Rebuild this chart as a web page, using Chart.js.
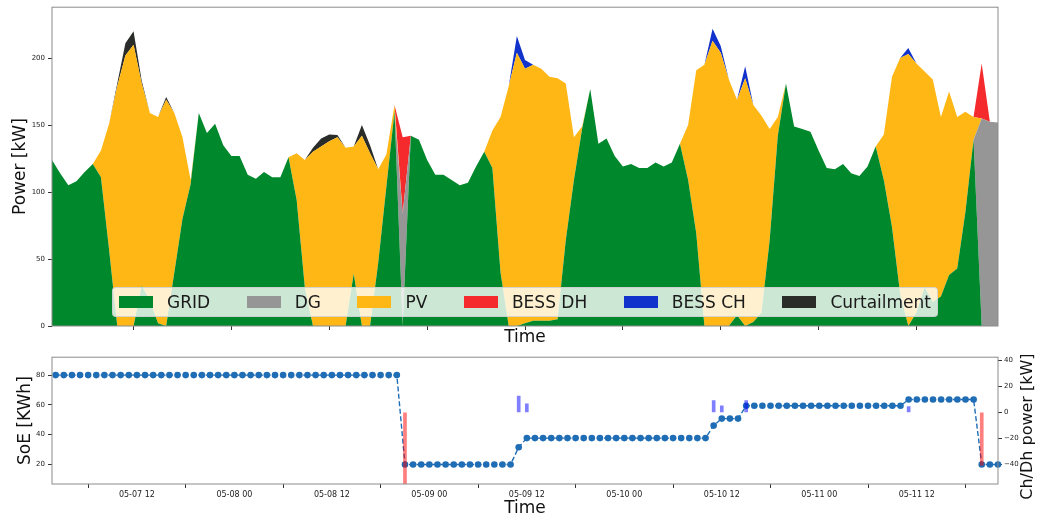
<!DOCTYPE html>
<html>
<head>
<meta charset="utf-8">
<title>Microgrid dispatch</title>
<script src="https://cdn.jsdelivr.net/npm/chart.js@4.4.1/dist/chart.umd.min.js"></script>
<style>
	body {
		margin: 0;
		background: #fff;
	}
	#figure {
		position: relative;
		width: 1038px;
		height: 519px;
		font-family: "DejaVu Sans", sans-serif;
	}
	#powerChart {
		position: absolute;
		left: 0;
		top: 0;
	}
	#soeChart {
		position: absolute;
		left: 0;
		top: 350px;
	}
	#legend-container {
		position: absolute;
		left: 112px;
		top: 287px;
		width: 826px;
		height: 30px;
		box-sizing: border-box;
		background: rgba(255, 255, 255, 0.8);
		border: 1px solid rgba(204, 204, 204, 0.8);
		border-radius: 4px;
	}
</style>
</head>
<body>
<div id="figure">
	<canvas id="powerChart" width="1038" height="350"></canvas>
	<canvas id="soeChart" width="1038" height="169"></canvas>
	<div id="legend-container"></div>
</div>
<script>
// hourly samples, first one on 05-07 at 02:00
const startDay = 7;
const startHour = 2;

// power sources [kW]
const grid = [
	124, 114, 105, 108, 115, 121, 111, 57, 0, 0,
	0, 30, 19, 2, 0, 40, 80, 106, 159, 144,
	151, 135, 127, 127, 113, 110, 115, 111, 111, 126,
	94, 29, 0, 0, 0, 0, 0, 39, 0, 0,
	47, 104, 160, 0, 142, 139, 124, 113, 113, 109,
	105, 107, 119, 130, 118, 40, 0, 0, 2, 4,
	4, 4, 5, 64, 109, 147, 177, 136, 140, 127,
	119, 121, 118, 118, 122, 119, 122, 136, 109, 69,
	0, 0, 0, 0, 8, 0, 3, 10, 64, 142,
	181, 149, 147, 145, 131, 118, 117, 121, 114, 112,
	119, 134, 109, 74, 24, 0, 10, 29, 18, 22,
	38, 43, 85, 139, 0, 0, 0,
];
const dg = [
	0, 0, 0, 0, 0, 0, 0, 0, 0, 0,
	0, 0, 0, 0, 0, 0, 0, 0, 0, 0,
	0, 0, 0, 0, 0, 0, 0, 0, 0, 0,
	0, 0, 0, 0, 0, 0, 0, 0, 0, 0,
	0, 0, 0, 84, 0, 0, 0, 0, 0, 0,
	0, 0, 0, 0, 0, 0, 0, 0, 0, 0,
	0, 0, 0, 0, 0, 0, 0, 0, 0, 0,
	0, 0, 0, 0, 0, 0, 0, 0, 0, 0,
	0, 0, 0, 0, 0, 0, 0, 0, 0, 0,
	0, 0, 0, 0, 0, 0, 0, 0, 0, 0,
	0, 0, 0, 0, 0, 0, 0, 0, 0, 0,
	0, 0, 0, 0, 155, 152.5, 152,
];
const pv = [
	0, 0, 0, 0, 0, 0, 20, 94, 179, 202,
	210, 151, 140, 154, 169, 119, 61, 3, 0, 0,
	0, 0, 0, 0, 0, 0, 0, 0, 0, 0,
	35, 95, 130, 134, 138, 141, 133, 95, 142, 129,
	70, 24, 5, 0, 0, 0, 0, 0, 0, 0,
	0, 0, 0, 0, 28, 116, 179, 204, 190, 191,
	188, 182, 180, 117, 32, 2, 0, 0, 0, 0,
	0, 0, 0, 0, 0, 0, 0, 0, 41, 122,
	195, 213, 204, 184, 161, 185, 162, 147, 83, 14,
	0, 0, 0, 0, 0, 0, 0, 0, 0, 0,
	0, 0, 34, 112, 176, 203, 186, 161, 166, 134,
	137, 113, 75, 17, 0, 0, 0,
];
const bessDh = [
	0, 0, 0, 0, 0, 0, 0, 0, 0, 0,
	0, 0, 0, 0, 0, 0, 0, 0, 0, 0,
	0, 0, 0, 0, 0, 0, 0, 0, 0, 0,
	0, 0, 0, 0, 0, 0, 0, 0, 0, 0,
	0, 0, 0, 57, 0, 0, 0, 0, 0, 0,
	0, 0, 0, 0, 0, 0, 0, 0, 0, 0,
	0, 0, 0, 0, 0, 0, 0, 0, 0, 0,
	0, 0, 0, 0, 0, 0, 0, 0, 0, 0,
	0, 0, 0, 0, 0, 0, 0, 0, 0, 0,
	0, 0, 0, 0, 0, 0, 0, 0, 0, 0,
	0, 0, 0, 0, 0, 0, 0, 0, 0, 0,
	0, 0, 0, 0, 41, 0, 0,
];
const bessCh = [
	0, 0, 0, 0, 0, 0, 0, 0, 0, 0,
	0, 0, 0, 0, 0, 0, 0, 0, 0, 0,
	0, 0, 0, 0, 0, 0, 0, 0, 0, 0,
	0, 0, 0, 0, 0, 0, 0, 0, 0, 0,
	0, 0, 0, 0, 0, 0, 0, 0, 0, 0,
	0, 0, 0, 0, 0, 0, 0, 12.5, 6.5, 0,
	0, 0, 0, 0, 0, 0, 0, 0, 0, 0,
	0, 0, 0, 0, 0, 0, 0, 0, 0, 0,
	0, 9, 5, 0, 0, 9, 0, 0, 0, 0,
	0, 0, 0, 0, 0, 0, 0, 0, 0, 0,
	0, 0, 0, 0, 0, 4.5, 0, 0, 0, 0,
	0, 0, 0, 0, 0, 0, 0,
];
const curtailment = [
	0, 0, 0, 0, 0, 0, 0, 0, 2, 9,
	10, 2, 0, 0, 2, 0, 0, 0, 0, 0,
	0, 0, 0, 0, 0, 0, 0, 0, 0, 0,
	0, 0, 3, 6, 5, 1.5, 0, 0, 8, 6,
	0, 0, 0, 0, 0, 0, 0, 0, 0, 0,
	0, 0, 0, 0, 0, 0, 0, 0, 0, 0,
	0, 0, 0, 0, 0, 0, 0, 0, 0, 0,
	0, 0, 0, 0, 0, 0, 0, 0, 0, 0,
	0, 0, 0, 0, 0, 0, 0, 0, 0, 0,
	0, 0, 0, 0, 0, 0, 0, 0, 0, 0,
	0, 0, 0, 0, 0, 0, 0, 0, 0, 0,
	0, 0, 0, 0, 0, 0, 0,
];

// battery state of energy [kWh]
const soe = [
	80, 80, 80, 80, 80, 80, 80, 80, 80, 80,
	80, 80, 80, 80, 80, 80, 80, 80, 80, 80,
	80, 80, 80, 80, 80, 80, 80, 80, 80, 80,
	80, 80, 80, 80, 80, 80, 80, 80, 80, 80,
	80, 80, 80, 20, 20, 20, 20, 20, 20, 20,
	20, 20, 20, 20, 20, 20, 20, 31.6, 37.7, 37.7,
	37.7, 37.7, 37.7, 37.7, 37.7, 37.7, 37.7, 37.7, 37.7, 37.7,
	37.7, 37.7, 37.7, 37.7, 37.7, 37.7, 37.7, 37.7, 37.7, 37.7,
	37.7, 46.1, 50.8, 50.8, 50.8, 59.4, 59.4, 59.4, 59.4, 59.4,
	59.4, 59.4, 59.4, 59.4, 59.4, 59.4, 59.4, 59.4, 59.4, 59.4,
	59.4, 59.4, 59.4, 59.4, 59.4, 63.6, 63.6, 63.6, 63.6, 63.6,
	63.6, 63.6, 63.6, 63.6, 20, 20, 20,
];

const powerTicks = [0, 50, 100, 150, 200];
const soeTicks = [20, 40, 60, 80];
const chDhTicks = [-40, -20, 0, 20, 40];

// charge is positive, discharge negative; idle hours get no bar
const chDhPower = bessCh.map((c, i) => (c - bessDh[i] === 0 ? null : c - bessDh[i]));

const hours = grid.map((_, i) => i);
const timeTicks = hours.filter((h) => (startHour + h) % 12 === 0);

function timeLabel(h) {
	const t = startHour + h;
	const day = startDay + Math.floor(t / 24);
	const hour = t % 24;
	return "05-" + String(day).padStart(2, "0") + " " + String(hour).padStart(2, "0");
}

const toPoints = (values) => values.map((v, i) => ({ x: hours[i], y: v }));
const fixedTicks = (values) => (scale) => {
	scale.ticks = values.map((v) => ({ value: v }));
};

Chart.defaults.font.family = "'DejaVu Sans', sans-serif";
Chart.defaults.color = "#222";

const areaSeries = [
	{ label: "GRID", values: grid, color: "#00882c" },
	{ label: "DG", values: dg, color: "#969696" },
	{ label: "PV", values: pv, color: "#ffb715" },
	{ label: "BESS DH", values: bessDh, color: "#f42a2c" },
	{ label: "BESS CH", values: bessCh, color: "#1232cc" },
	{ label: "Curtailment", values: curtailment, color: "#2a2c2a" },
];

// legend sits inside the plot, drawn as html over the canvas
const htmlLegendPlugin = {
	id: "htmlLegend",
	afterUpdate(chart, args, options) {
		const container = document.getElementById(options.containerID);
		container.innerHTML = "";
		const ul = document.createElement("ul");
		ul.style.display = "flex";
		ul.style.justifyContent = "space-between";
		ul.style.alignItems = "center";
		ul.style.height = "100%";
		ul.style.margin = 0;
		ul.style.padding = "0 6px";
		ul.style.listStyle = "none";
		container.appendChild(ul);

		chart.data.datasets.forEach((ds) => {
			const li = document.createElement("li");
			li.style.display = "flex";
			li.style.alignItems = "center";

			const box = document.createElement("span");
			box.style.display = "inline-block";
			box.style.width = "34px";
			box.style.height = "12px";
			box.style.background = ds.backgroundColor;
			box.style.marginRight = "14px";

			const text = document.createElement("span");
			text.textContent = ds.label;
			text.style.font = "17px 'DejaVu Sans', sans-serif";
			text.style.color = "#1a1a1a";

			li.appendChild(box);
			li.appendChild(text);
			ul.appendChild(li);
		});
	},
};

const framePlugin = {
	id: "frame",
	afterDraw(chart) {
		const { ctx, chartArea: a } = chart;
		ctx.save();
		ctx.strokeStyle = "#8c8c8c";
		ctx.lineWidth = 1;
		ctx.strokeRect(a.left, a.top, a.right - a.left, a.bottom - a.top);
		ctx.restore();
	},
};

// right axis title reads bottom-to-top like the left one
const rightTitlePlugin = {
	id: "rightTitle",
	afterDraw(chart, args, opts) {
		const { ctx, chartArea: a } = chart;
		ctx.save();
		ctx.translate(opts.x, (a.top + a.bottom) / 2 + 6);
		ctx.rotate(-Math.PI / 2);
		ctx.font = "16px 'DejaVu Sans', sans-serif";
		ctx.fillStyle = "#111";
		ctx.textAlign = "center";
		ctx.textBaseline = "middle";
		ctx.fillText(opts.text, 0, 0);
		ctx.restore();
	},
};

const axisGrid = {
	drawOnChartArea: false,
	drawTicks: true,
	tickLength: 4,
	color: "#333",
	tickColor: "#333",
};

new Chart(document.getElementById("powerChart"), {
	type: "line",
	data: {
		datasets: areaSeries.map((s, k) => ({
			label: s.label,
			data: toPoints(s.values),
			backgroundColor: s.color,
			borderWidth: 0,
			pointRadius: 0,
			tension: 0,
			fill: k === 0 ? "origin" : "-1",
		})),
	},
	options: {
		responsive: false,
		animation: false,
		events: [],
		layout: { padding: { top: 6.5, right: 40, bottom: 0, left: 0 } },
		plugins: {
			legend: { display: false },
			tooltip: { enabled: false },
			htmlLegend: { containerID: "legend-container" },
		},
		scales: {
			x: {
				type: "linear",
				min: 0,
				max: 116,
				afterBuildTicks: fixedTicks(timeTicks),
				afterFit: (scale) => {
					scale.height = 24;
				},
				ticks: { display: false },
				grid: axisGrid,
				border: { display: false },
				title: {
					display: true,
					text: "Time",
					font: { size: 17 },
					color: "#111",
					padding: { top: 0, bottom: 2 },
				},
			},
			y: {
				stacked: true,
				min: 0,
				max: 238,
				afterBuildTicks: fixedTicks(powerTicks),
				afterFit: (scale) => {
					scale.width = 52;
				},
				ticks: { font: { size: 7 }, padding: 3 },
				grid: axisGrid,
				border: { display: false },
				title: {
					display: true,
					text: "Power [kW]",
					font: { size: 17 },
					color: "#111",
					padding: { top: 10, bottom: 0 },
				},
			},
		},
	},
	plugins: [htmlLegendPlugin, framePlugin],
});

new Chart(document.getElementById("soeChart"), {
	type: "line",
	data: {
		datasets: [
			{
				type: "bar",
				label: "Ch/Dh power",
				data: toPoints(chDhPower),
				yAxisID: "y1",
				backgroundColor: chDhPower.map((p) =>
					p < 0 ? "rgba(255, 0, 0, 0.5)" : "rgba(0, 0, 255, 0.5)"
				),
				borderWidth: 0,
				barThickness: 3,
				clip: 0,
				order: 0,
			},
			{
				label: "SoE",
				data: toPoints(soe),
				yAxisID: "y",
				borderColor: "#1f6db5",
				borderWidth: 1.4,
				borderDash: [5, 2.5],
				pointRadius: 3.3,
				pointBackgroundColor: "#1f6db5",
				pointBorderWidth: 0,
				tension: 0,
				clip: 5,
				order: 1,
			},
		],
	},
	options: {
		responsive: false,
		animation: false,
		events: [],
		layout: { padding: { top: 6, right: 0, bottom: 0, left: 0 } },
		plugins: {
			legend: { display: false },
			tooltip: { enabled: false },
			rightTitle: { text: "Ch/Dh power [kW]", x: 1028 },
		},
		scales: {
			x: {
				type: "linear",
				offset: false,
				min: -0.45,
				max: 116,
				afterBuildTicks: fixedTicks(timeTicks),
				afterFit: (scale) => {
					scale.height = 35;
				},
				ticks: {
					font: { size: 8 },
					padding: 2,
					maxRotation: 0,
					autoSkip: false,
					callback: (v) => timeLabel(v),
				},
				grid: axisGrid,
				border: { display: false },
				title: {
					display: true,
					text: "Time",
					font: { size: 17 },
					color: "#111",
					padding: { top: 0, bottom: 0 },
				},
			},
			y: {
				position: "left",
				min: 6.9,
				max: 92,
				afterBuildTicks: fixedTicks(soeTicks),
				afterFit: (scale) => {
					scale.width = 52;
				},
				ticks: { font: { size: 7 }, padding: 3 },
				grid: axisGrid,
				border: { display: false },
				title: {
					display: true,
					text: "SoE [KWh]",
					font: { size: 17 },
					color: "#111",
					padding: { top: 15, bottom: 0 },
				},
			},
			y1: {
				position: "right",
				min: -55.3,
				max: 42.5,
				afterBuildTicks: fixedTicks(chDhTicks),
				afterFit: (scale) => {
					scale.width = 40;
				},
				ticks: {
					font: { size: 7 },
					padding: 2,
					callback: (v) => String(v).replace("-", "\u2212"),
				},
				grid: axisGrid,
				border: { display: false },
			},
		},
	},
	plugins: [framePlugin, rightTitlePlugin],
});
</script>
</body>
</html>
